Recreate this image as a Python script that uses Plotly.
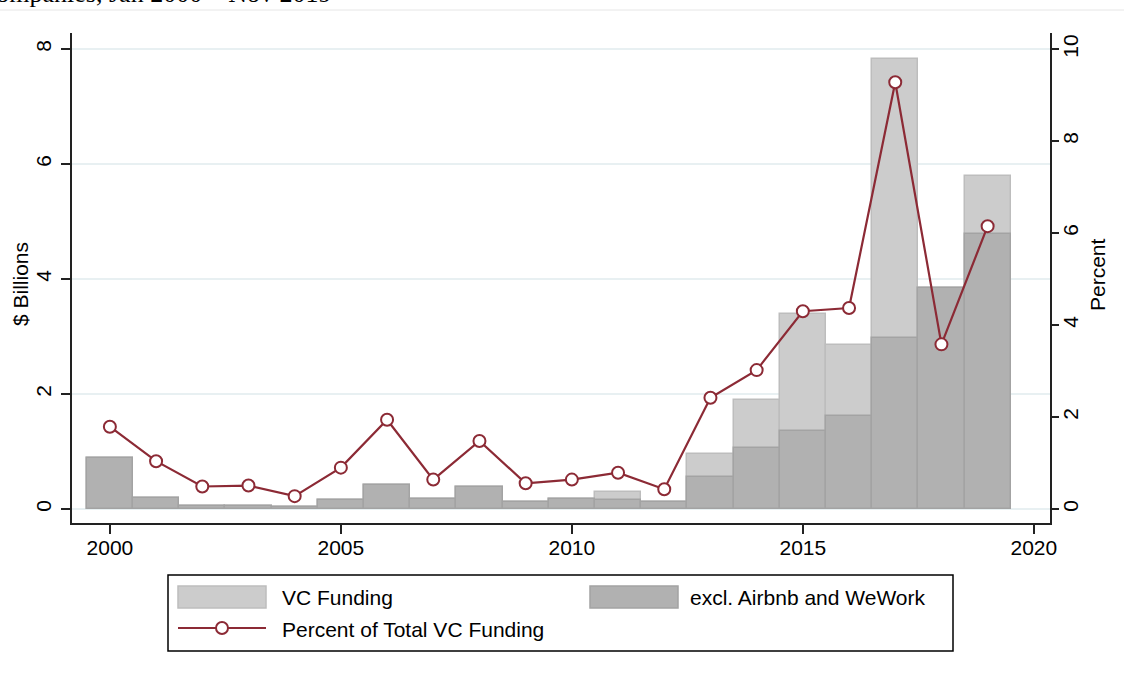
import plotly.graph_objects as go

years = list(range(2000, 2020))
vc_funding = [0.89, 0.20, 0.05, 0.05, 0.03, 0.15, 0.41, 0.18, 0.39, 0.13,
              0.17, 0.30, 0.12, 0.95, 1.90, 3.39, 2.86, 7.83, 3.85, 5.80]
excl_airbnb_wework = [0.89, 0.20, 0.05, 0.05, 0.03, 0.15, 0.41, 0.18, 0.39, 0.13,
                      0.17, 0.16, 0.12, 0.56, 1.06, 1.36, 1.61, 2.98, 3.85, 4.79]
pct_total = [1.79, 1.04, 0.49, 0.51, 0.28, 0.90, 1.94, 0.64, 1.48, 0.56,
             0.64, 0.79, 0.43, 2.42, 3.02, 4.30, 4.37, 9.28, 3.58, 6.15]

left_ticks = [0, 2, 4, 6, 8]
right_ticks = [0, 2, 4, 6, 8, 10]
x_ticks = [2000, 2005, 2010, 2015, 2020]

FONT = "Liberation Sans, Arial, sans-serif"
LIGHT = "#cccccc"
DARK = "#b1b1b1"
MAROON = "#8c2a35"

# plot area in pixels
L, R, T, B = 72, 1050, 33, 523
W, H = 1124, 679
def px(x):
    return (x - L) / (R - L)
def py(y):
    return (B - y) / (B - T)

fig = go.Figure()
fig.add_trace(go.Bar(x=years, y=vc_funding, width=1.0, name="VC Funding",
                     marker=dict(color=LIGHT, line=dict(color="#bdbdbd", width=1.5)),
                     showlegend=False))
fig.add_trace(go.Bar(x=years, y=excl_airbnb_wework, width=1.0, name="excl. Airbnb and WeWork",
                     marker=dict(color=DARK, line=dict(color="#a3a3a3", width=1.5)),
                     showlegend=False))
fig.add_trace(go.Scatter(x=years, y=pct_total, yaxis="y2", mode="lines+markers",
                         name="Percent of Total VC Funding",
                         line=dict(color=MAROON, width=2.2),
                         marker=dict(symbol="circle", size=12, color="white",
                                     line=dict(color=MAROON, width=2)),
                         showlegend=False))

shapes = []
annotations = []

# thin line at top (under the clipped title)
shapes.append(dict(type="line", xref="paper", yref="paper",
                   x0=px(0), x1=px(W), y0=py(10), y1=py(10),
                   line=dict(color="#e6e6e6", width=1)))
annotations.append(dict(text="Companies, Jan 2000 – Nov 2019", xref="paper", yref="paper",
                        x=px(333), y=py(-6), xanchor="right", yanchor="middle",
                        showarrow=False,
                        font=dict(family="Liberation Serif, DejaVu Serif, serif", size=26, color="black")))

# axis titles
annotations.append(dict(text="$ Billions", xref="paper", yref="paper",
                        x=px(20), y=py(284), textangle=-90, showarrow=False,
                        xanchor="center", yanchor="middle",
                        font=dict(family=FONT, size=21, color="black")))
annotations.append(dict(text="Percent", xref="paper", yref="paper",
                        x=px(1097), y=py(275), textangle=-90, showarrow=False,
                        xanchor="center", yanchor="middle",
                        font=dict(family=FONT, size=21, color="black")))

# legend box
shapes.append(dict(type="rect", xref="paper", yref="paper",
                   x0=px(168), x1=px(953), y0=py(575), y1=py(651),
                   line=dict(color="black", width=1.5), fillcolor="white"))
shapes.append(dict(type="rect", xref="paper", yref="paper",
                   x0=px(178), x1=px(266), y0=py(586), y1=py(608),
                   line=dict(color="#bdbdbd", width=1.5), fillcolor=LIGHT))
shapes.append(dict(type="rect", xref="paper", yref="paper",
                   x0=px(590), x1=px(678), y0=py(586), y1=py(608),
                   line=dict(color="#a3a3a3", width=1.5), fillcolor=DARK))
shapes.append(dict(type="line", xref="paper", yref="paper",
                   x0=px(178), x1=px(266), y0=py(628), y1=py(628),
                   line=dict(color=MAROON, width=2)))
shapes.append(dict(type="circle", xref="paper", yref="paper",
                   x0=px(216), x1=px(228), y0=py(622), y1=py(634),
                   line=dict(color=MAROON, width=2), fillcolor="white"))
for label, x, y in [("VC Funding", 280, 597), ("excl. Airbnb and WeWork", 688, 597),
                    ("Percent of Total VC Funding", 280, 629)]:
    annotations.append(dict(text=label, xref="paper", yref="paper",
                            x=px(x), y=py(y), xanchor="left", yanchor="middle",
                            showarrow=False, font=dict(family=FONT, size=21, color="black")))

fig.update_layout(
    width=W, height=H,
    margin=dict(l=L, r=W - R, t=T, b=H - B, pad=0),
    paper_bgcolor="white", plot_bgcolor="white",
    barmode="overlay", bargap=0,
    showlegend=False,
    font=dict(family=FONT, size=21, color="black"),
    xaxis=dict(range=[1999.18, 2020.35], tickvals=x_ticks, ticks="outside", ticklen=9,
               tickwidth=1.5, tickcolor="#222", showline=True, linecolor="#222", linewidth=1.5,
               showgrid=False, zeroline=False, tickfont=dict(size=21), ticklabelstandoff=-4),
    yaxis=dict(range=[-0.243, 8.28], tickvals=left_ticks, ticks="outside", ticklen=9,
               tickwidth=1.5, tickcolor="#222", showline=True, linecolor="#222", linewidth=1.5,
               showgrid=True, gridcolor="#e8f0f2", gridwidth=1.5, zeroline=False,
               tickangle=-90, tickfont=dict(size=21), ticklabelstandoff=2),
    yaxis2=dict(range=[-0.304, 10.35], tickvals=right_ticks, overlaying="y", side="right",
                ticks="outside", ticklen=7, tickwidth=1.5, tickcolor="#222", showline=True,
                linecolor="#222", linewidth=1.5, showgrid=False, zeroline=False,
                tickangle=-90, tickfont=dict(size=21), ticklabelstandoff=-6),
    shapes=shapes, annotations=annotations,
)

fig.write_html("out.html", config={"displayModeBar": False},
               post_script="document.body.style.margin='0';document.body.style.overflow='hidden';")
